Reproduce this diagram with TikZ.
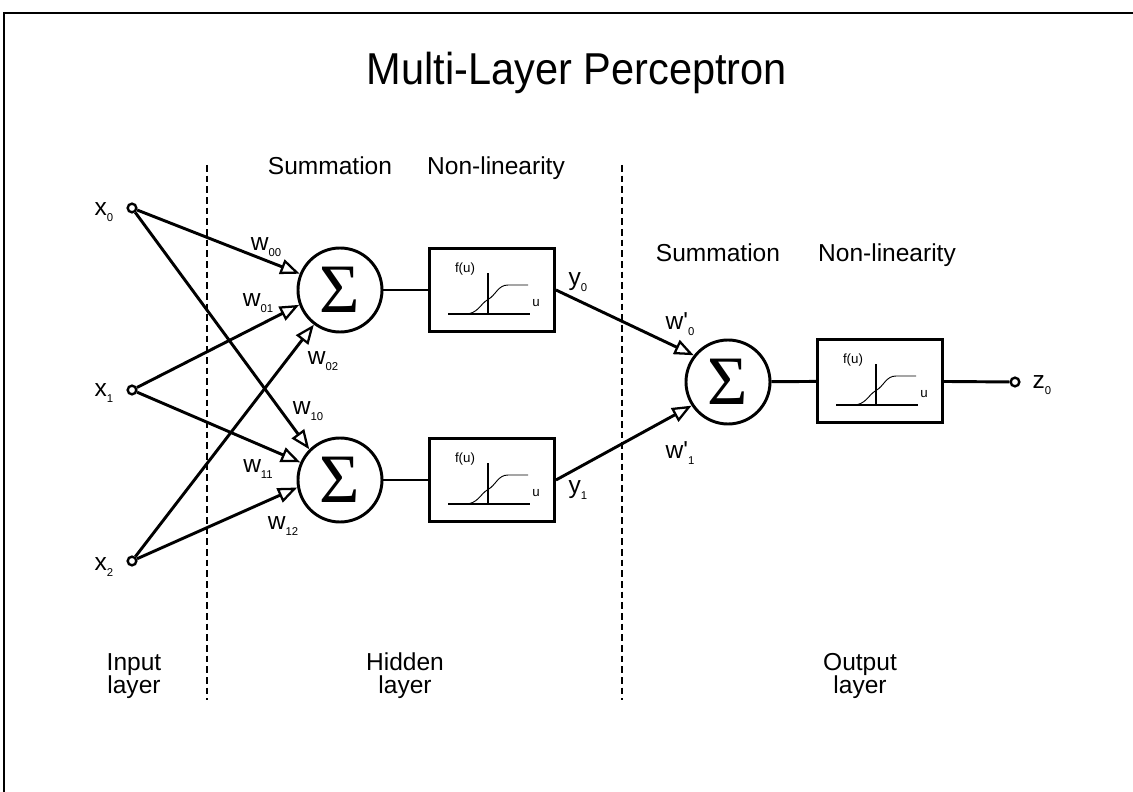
\documentclass[tikz,border=0pt]{standalone}
\usepackage{fontspec}
\setmainfont{Liberation Sans}
\newfontfamily\sigmafont{Liberation Serif}
\usetikzlibrary{arrows.meta}
\newcommand{\lsub}[1]{\raisebox{-0.45ex}{\fontsize{8.5}{8.5}\selectfont #1}}
\newcommand{\prm}{\textquotesingle}
\begin{document}
\begin{tikzpicture}[x=0.75pt,y=-0.75pt,
  txt/.style={font=\fontsize{18.4}{17.25}\selectfont, inner sep=0, align=center, anchor=base},
  lab/.style={font=\fontsize{18.4}{18.4}\selectfont, inner sep=0},
  small/.style={font=\fontsize{10}{10}\selectfont, inner sep=0},
  inode/.style={circle, draw, fill=white, line width=1.8pt, minimum size=6.5pt, inner sep=0},
  sumnode/.style={circle, draw, line width=2.2pt, minimum size=63pt, inner sep=0,
    font=\sigmafont\fontsize{52}{52}\selectfont},
  fbox/.style={draw, line width=2.2pt, minimum width=93.75pt, minimum height=62.25pt, inner sep=0},
  wire/.style={line width=2.2pt},
  conn/.style={line width=2.2pt, -{Triangle[open, length=14.5pt, width=11.5pt, line width=1.7pt]}},
  divider/.style={line width=1.4pt, dash pattern=on 5pt off 3pt}
]
\useasboundingbox (0,0) rectangle (1133,792);
% frame
\draw[line width=2.2pt] (1140,13) -- (4,13) -- (4,800);
% title
\node[inner sep=0, anchor=base, xscale=0.93, font=\fontsize{33.5}{33.5}\selectfont] (title) at (577,85) {Multi-Layer Perceptron};
% dividers
\coordinate (d1t) at (207,165); \coordinate (d1b) at (207,700);
\coordinate (d2t) at (622,165); \coordinate (d2b) at (622,700);
\draw[divider] (d1t) -- (d1b);
\draw[divider] (d2t) -- (d2b);
% section headings
\node[txt] (hs) at (330,175) {Summation};
\node[txt] (hn) at (496,175) {Non-linearity};
\node[txt] (os) at (718,261) {Summation};
\node[txt] (on) at (887,261) {Non-linearity};
\node[txt] (il) at (134,693) {Input\\layer};
\node[txt] (hl) at (405,693) {Hidden\\layer};
\node[txt] (ol) at (860,693) {Output\\layer};
% input nodes
\node[inode] (x0) at (132,208) {};
\node[inode] (x1) at (132,390) {};
\node[inode] (x2) at (132,561) {};
\node[lab] (lx0) at (104,212) {x\lsub{0}};
\node[lab] (lx1) at (104,393) {x\lsub{1}};
\node[lab] (lx2) at (104,567) {x\lsub{2}};
% hidden sums
\node[sumnode] (h0) at (340,290) {Σ};
\node[sumnode] (h1) at (340,480) {Σ};
% nonlinearity boxes
\node[fbox] (f0) at (492,290) {};
\node[fbox] (f1) at (492,480) {};
% output
\node[sumnode] (o) at (728,382) {Σ};
\node[fbox] (fo) at (880,381) {};
\node[inode] (z0) at (1015,382) {};
\node[lab] (lz0) at (1042,385) {z\lsub{0}};
% sigmoid plots
\foreach \c/\n in {{492,290}/a, {492,480}/b, {880,381}/c}{
  \begin{scope}[shift={(\c)}]
    \draw[line width=0.9pt] (-44,24) -- (38,24);
    \draw[line width=0.9pt] (-4,-17) -- (-4,24);
    \draw[line width=0.7pt] (-27,24) .. controls (-14,24) and (-12,14) .. (-4,9.5)
      .. controls (4,5) and (6,-5) .. (16,-5) -- (36,-5);
    \node[small] (fu\n) at (-27,-21) {f(u)};
    \node[small] (u\n) at (44,13) {u};
  \end{scope}
}
% connectors input -> hidden
\draw[conn] (x0) -- (h0.158);
\draw[conn] (x1) -- (h0.200);
\draw[conn] (x2) -- (h0.233);
\draw[conn] (x0) -- (h1.135);
\draw[conn] (x1) -- (h1.156);
\draw[conn] (x2) -- (h1.190);
% weight labels
\node[lab] (w00) at (266,247) {w\lsub{00}};
\node[lab] (w01) at (258,303) {w\lsub{01}};
\node[lab] (w02) at (323,361) {w\lsub{02}};
\node[lab] (w10) at (308,411) {w\lsub{10}};
\node[lab] (w11) at (258,469) {w\lsub{11}};
\node[lab] (w12) at (283,526) {w\lsub{12}};
% hidden -> boxes
\draw[wire] (h0) -- (f0);
\draw[wire] (h1) -- (f1);
\node[lab] (ly0) at (578,282) {y\lsub{0}};
\node[lab] (ly1) at (578,490) {y\lsub{1}};
% boxes -> output
\draw[conn] (f0.east) -- (o.142);
\draw[conn] (f1.east) -- (o.213);
\node[lab] (wp0) at (680,324) {w\prm\lsub{0}};
\node[lab] (wp1) at (680,453) {w\prm\lsub{1}};
\draw[wire] (o) -- (fo);
\draw[wire] (fo) -- (z0);
\end{tikzpicture}
\end{document}
